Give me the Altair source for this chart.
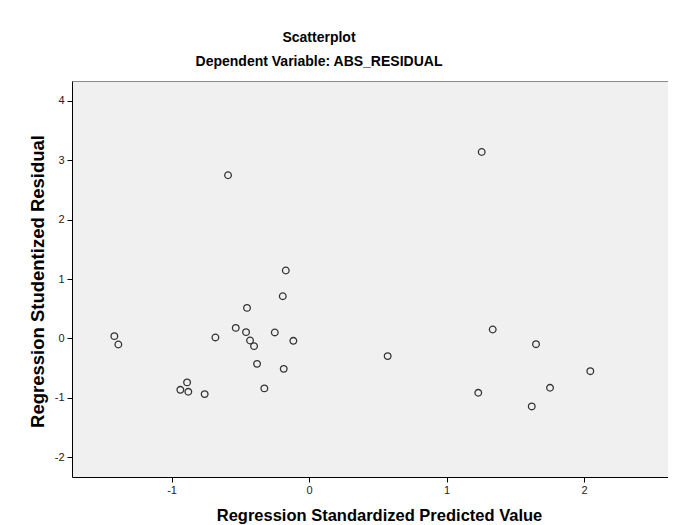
import altair as alt
import pandas as pd

# Regression Standardized Predicted Value
pred = [-1.416, -1.387, -0.936, -0.887, -0.878, -0.759, -0.681, -0.589,
        -0.533, -0.451, -0.458, -0.429, -0.400, -0.378, -0.325, -0.249,
        -0.191, -0.169, -0.184, -0.114, 0.572, 1.256, 1.231, 1.336,
        1.651, 1.620, 1.753, 2.046]
# Regression Studentized Residual
resid = [0.039, -0.101, -0.864, -0.739, -0.897, -0.936, 0.017, 2.745,
         0.178, 0.514, 0.106, -0.034, -0.129, -0.427, -0.840, 0.101,
         0.711, 1.143, -0.511, -0.040, -0.297, 3.136, -0.914, 0.151,
         -0.096, -1.143, -0.830, -0.550]

x_ticks = [-1, 0, 1, 2]
y_ticks = [-2, -1, 0, 1, 2, 3, 4]

df = pd.DataFrame({"pred": pred, "resid": resid})

FONT = "Liberation Sans"
LABEL_EXPR = "'' + datum.value"

x_scale = alt.Scale(domain=[-1.724, 2.611], nice=False, zero=False)
y_scale = alt.Scale(domain=[-2.33, 4.33], nice=False, zero=False)

base = alt.Chart(df)

points = base.mark_point(
    shape="circle", filled=False, size=44, stroke="#333333", strokeWidth=1.3, opacity=1
).encode(
    x=alt.X("pred:Q", scale=x_scale,
            axis=alt.Axis(values=x_ticks, labelExpr=LABEL_EXPR,
                          title="Regression Standardized Predicted Value",
                          titleFontSize=16.5,
                          titleX=307, titleY=38, titleBaseline="middle", titleAlign="center")),
    y=alt.Y("resid:Q", scale=y_scale,
            axis=alt.Axis(values=y_ticks, labelExpr=LABEL_EXPR,
                          title="Regression Studentized Residual",
                          titleFontSize=18.5,
                          titleX=-35, titleY=200, titleAngle=270,
                          titleBaseline="middle", titleAlign="center")),
)

# invisible layer that only carries the grey top frame line
top_frame = base.mark_point(opacity=0).encode(
    x=alt.X("pred:Q", scale=x_scale,
            axis=alt.Axis(orient="top", labels=False, ticks=False, title=None,
                          domainColor="#8a8a8a", values=x_ticks)),
)

chart = alt.layer(points, top_frame).resolve_axis(x="independent").properties(
    width=596,
    height=396,
    title=alt.TitleParams(
        text="Scatterplot",
        subtitle="Dependent Variable: ABS_RESIDUAL",
        anchor="middle", dx=-51, offset=12,
        font=FONT, fontSize=14, fontWeight="bold", color="#000000",
        subtitleFont=FONT, subtitleFontSize=14, subtitleFontWeight="bold",
        subtitleColor="#000000", subtitlePadding=10,
    ),
    autosize=alt.AutoSizeParams(type="none"),
    padding={"left": 64, "top": 73, "right": 0, "bottom": 50},
    background="#ffffff",
).configure_view(
    fill="#f0f0f0", stroke=None
).configure_axis(
    grid=False, domainColor="#000000", domainWidth=1, tickColor="#000000",
    tickSize=5, tickWidth=1, labelFont=FONT, labelFontSize=11, labelColor="#222222",
    labelPadding=2, titleFont=FONT, titleFontWeight="bold",
    titleColor="#000000", zindex=1
).configure_axisY(labelPadding=3)

chart.save("out.html", embed_options={"renderer": "svg", "actions": False})
